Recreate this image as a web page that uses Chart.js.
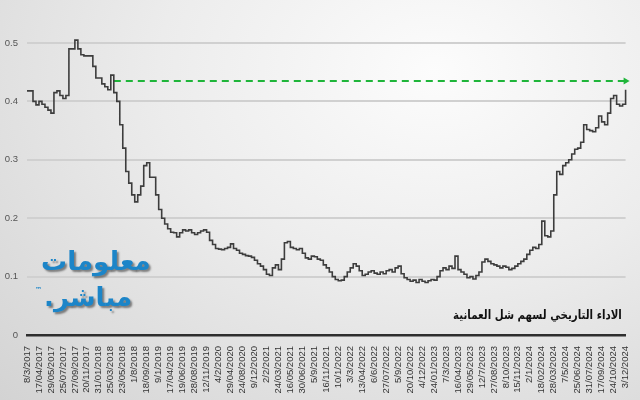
<!DOCTYPE html>
<html>
<head>
<meta charset="utf-8">
<title>الاداء التاريخي لسهم شل العمانية</title>
<script src="https://cdn.jsdelivr.net/npm/chart.js"></script>
<style>
  html, body { margin: 0; padding: 0; }
  body {
    width: 640px; height: 400px; overflow: hidden; position: relative;
    background: radial-gradient(ellipse at 68% 18%, #fcfcfc 0%, #ececec 45%, #d3d3d3 100%);
    font-family: "DejaVu Sans", sans-serif;
  }
  canvas { position: absolute; left: 0; top: 0; }
  .logo {
    position: absolute; color: #1c85c8; font-weight: bold; direction: rtl;
    text-shadow: 2px 2px 2px rgba(0,0,0,0.45); white-space: nowrap;
  }
  .title {
    position: absolute; right: 18px; top: 307px; font-size: 12.5px; font-weight: bold;
    color: #111; direction: rtl; white-space: nowrap;
    transform: scaleX(0.82); transform-origin: right center;
  }
</style>
</head>
<body>
<canvas id="chart" width="640" height="400"></canvas>
<div class="logo" style="left:41px; top:246px; font-size:26px;">معلومات</div>
<div class="logo" style="left:44px; top:282px; font-size:26px;">مباشر.</div>
<div class="logo" style="left:35px; top:286px; font-size:7px; text-shadow:none;">™</div>
<div class="title">الاداء التاريخي لسهم شل العمانية</div>
<script>
// tick labels along the x axis, one every 4 points
const tickLabels = [
  '8/3/2017', '17/04/2017', '29/05/2017', '25/07/2017', '27/09/2017', '20/11/2017',
  '31/01/2018', '25/03/2018', '23/05/2018', '1/8/2018', '18/09/2018', '9/1/2019',
  '17/04/2019', '19/06/2019', '28/08/2019', '12/11/2019', '4/2/2020', '29/04/2020',
  '24/08/2020', '9/12/2020', '2/2/2021', '24/03/2021', '16/05/2021', '30/06/2021',
  '5/9/2021', '16/11/2021', '10/1/2022', '3/3/2022', '13/04/2022', '6/6/2022',
  '27/07/2022', '5/9/2022', '20/10/2022', '4/12/2022', '24/01/2023', '7/3/2023',
  '16/04/2023', '29/05/2023', '12/7/2023', '27/08/2023', '8/10/2023', '15/11/2023',
  '2/1/2024', '18/02/2024', '28/03/2024', '7/5/2024', '25/06/2024', '31/07/2024',
  '17/09/2024', '24/10/2024', '3/12/2024'
];
const pointsPerTick = 4;

// share price (OMR)
const prices = [
  0.418, 0.418, 0.400, 0.394, 0.400, 0.395, 0.390, 0.385, 0.380, 0.415,
  0.418, 0.410, 0.405, 0.410, 0.490, 0.490, 0.505, 0.490, 0.480, 0.478,
  0.478, 0.478, 0.460, 0.440, 0.440, 0.430, 0.425, 0.420, 0.445, 0.415,
  0.400, 0.360, 0.320, 0.280, 0.260, 0.240, 0.228, 0.240, 0.255, 0.290,
  0.295, 0.270, 0.270, 0.240, 0.215, 0.200, 0.190, 0.182, 0.176, 0.175,
  0.168, 0.175, 0.180, 0.178, 0.180, 0.175, 0.172, 0.175, 0.178, 0.180,
  0.176, 0.162, 0.155, 0.148, 0.147, 0.146, 0.148, 0.150, 0.156, 0.148,
  0.145, 0.140, 0.138, 0.136, 0.135, 0.133, 0.128, 0.122, 0.118, 0.112,
  0.104, 0.102, 0.115, 0.120, 0.112, 0.130, 0.158, 0.160, 0.150, 0.148,
  0.146, 0.148, 0.140, 0.132, 0.130, 0.135, 0.134, 0.130, 0.128, 0.120,
  0.115, 0.108, 0.100, 0.095, 0.093, 0.094, 0.100, 0.108, 0.115, 0.122,
  0.118, 0.110, 0.102, 0.104, 0.108, 0.110, 0.106, 0.104, 0.108, 0.105,
  0.110, 0.112, 0.108, 0.115, 0.118, 0.105, 0.098, 0.095, 0.092, 0.094,
  0.090, 0.095, 0.092, 0.090, 0.093, 0.095, 0.094, 0.100, 0.110, 0.115,
  0.112, 0.118, 0.114, 0.135, 0.112, 0.108, 0.104, 0.098, 0.100, 0.096,
  0.102, 0.108, 0.125, 0.130, 0.126, 0.122, 0.120, 0.118, 0.115, 0.118,
  0.116, 0.112, 0.114, 0.118, 0.122, 0.126, 0.130, 0.138, 0.145, 0.150,
  0.148, 0.155, 0.195, 0.170, 0.168, 0.178, 0.240, 0.280, 0.275, 0.290,
  0.295, 0.300, 0.310, 0.318, 0.320, 0.330, 0.360, 0.352, 0.350, 0.348,
  0.355, 0.375, 0.365, 0.360, 0.380, 0.405, 0.410, 0.395, 0.392, 0.395,
  0.420
];

// dashed reference arrow: from the 2018 level to the latest point
const arrowStart = 29;
const arrowLevel = 0.435;

const xLabels = prices.map((_, i) => i % pointsPerTick === 0 ? tickLabels[i / pointsPerTick] : '');
const arrowData = prices.map((_, i) => i >= arrowStart ? arrowLevel : null);
const lastIndex = prices.length - 1;

new Chart(document.getElementById('chart'), {
  type: 'line',
  data: {
    labels: xLabels,
    datasets: [
      {
        data: prices,
        borderColor: '#3d3d3d',
        borderWidth: 1.6,
        stepped: true,
        pointRadius: 0,
        clip: false
      },
      {
        data: arrowData,
        borderColor: '#1fb53a',
        borderWidth: 2,
        borderDash: [7, 5],
        pointStyle: 'triangle',
        pointRotation: 90,
        pointRadius: (ctx) => ctx.dataIndex === lastIndex ? 4 : 0,
        pointBackgroundColor: '#1fb53a',
        pointBorderWidth: 0,
        clip: false
      }
    ]
  },
  options: {
    responsive: false,
    animation: false,
    devicePixelRatio: 1,
    layout: { padding: { top: 43, right: 8, left: 0, bottom: 0 } },
    plugins: { legend: { display: false }, tooltip: { enabled: false } },
    scales: {
      x: {
        offset: false,
        grid: { display: false },
        border: { color: '#2e2e2e', width: 2.5 },
        afterFit: (s) => { s.height = 65; },
        ticks: {
          autoSkip: false,
          maxRotation: 90,
          minRotation: 90,
          padding: 3,
          color: '#333',
          font: { family: 'Liberation Sans', size: 9.5 },
          callback: (v, i) => xLabels[i] || null
        }
      },
      y: {
        min: 0,
        max: 0.5,
        afterFit: (s) => { s.width = 27; },
        border: { display: false },
        grid: { color: '#d0d0d0', lineWidth: 2, drawTicks: false },
        ticks: {
          stepSize: 0.1,
          padding: 9,
          color: '#555',
          font: { family: 'Liberation Sans', size: 9.5 },
          callback: (v) => v === 0 ? '0' : v.toFixed(1)
        }
      }
    }
  }
});
</script>
</body>
</html>
